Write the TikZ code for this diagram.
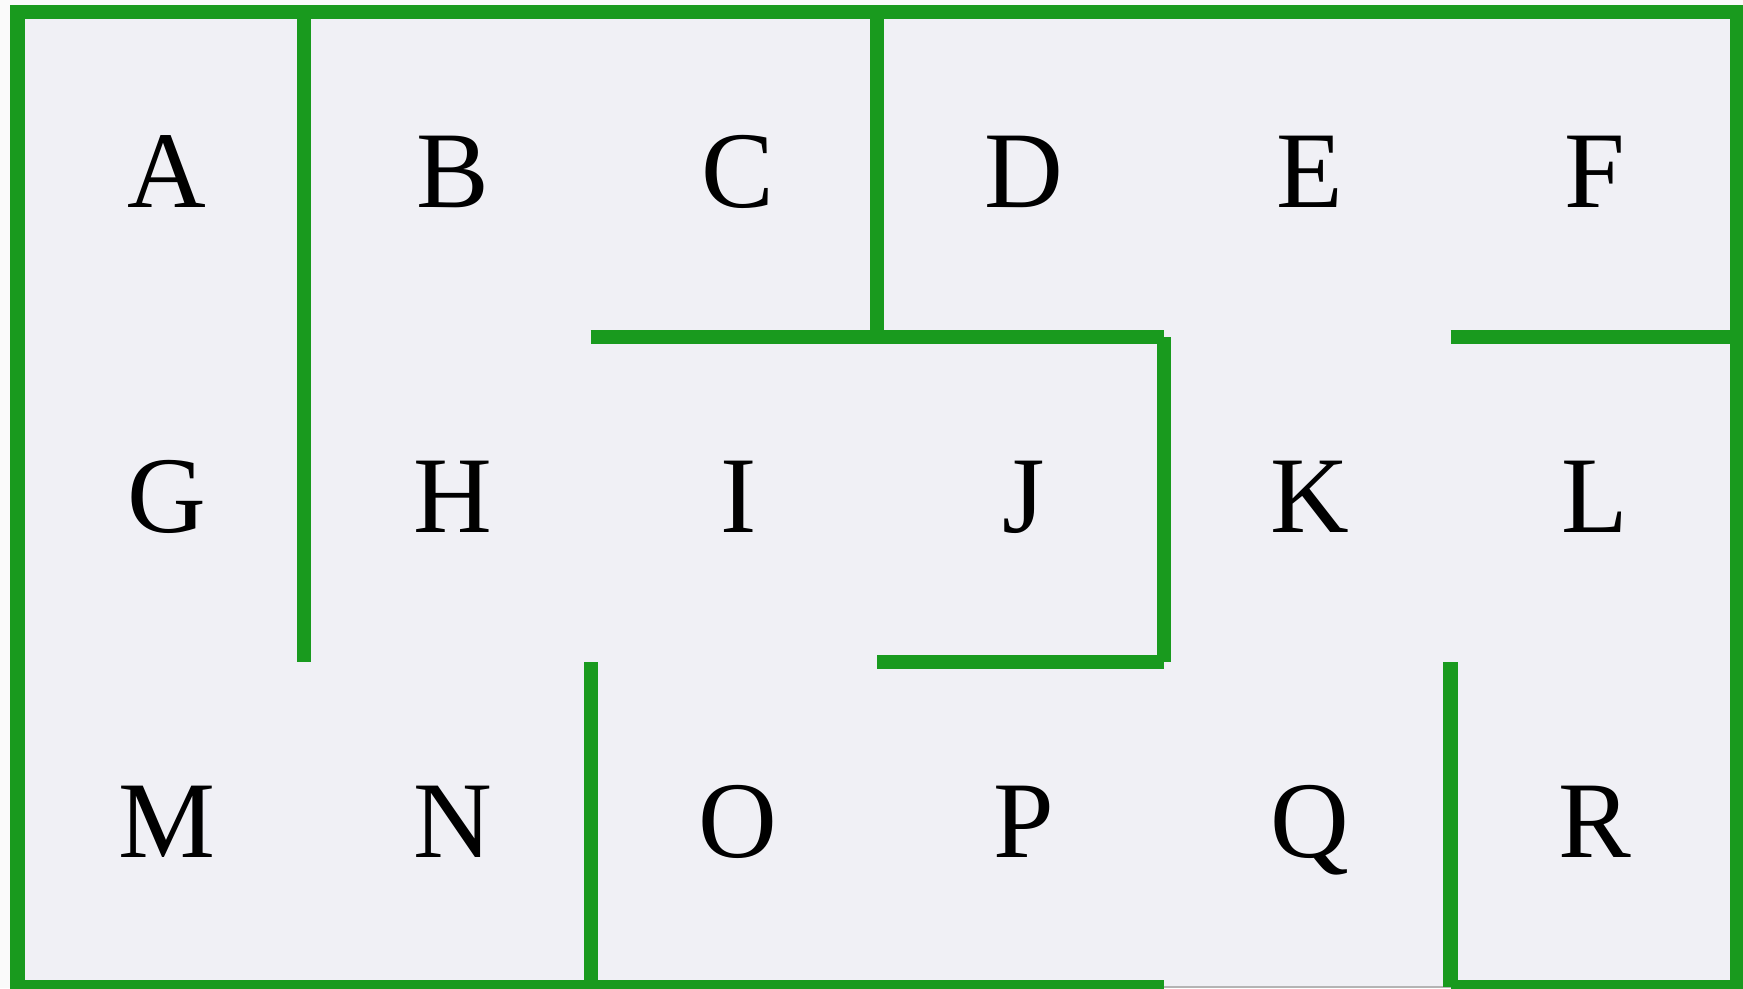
\documentclass[tikz,border=0pt]{standalone}
\usepackage{fontspec}
\setmainfont{Liberation Serif}
\usetikzlibrary{positioning}
\definecolor{wallgreen}{RGB}{25,154,30}
\definecolor{roomfill}{RGB}{240,240,245}
\definecolor{pagebg}{RGB}{250,250,250}
\definecolor{edgegray}{RGB}{180,180,180}

\begin{document}
\begin{tikzpicture}[
    x=0.01cm, y=-0.01cm,
    wall/.style={draw=wallgreen, line width=4pt},
    room/.style={font=\fontsize{31}{36}\selectfont, inner sep=0pt, anchor=base}
]
    % Background
    \fill[pagebg] (0,0) rectangle (1743,988);
    \useasboundingbox (0,0) rectangle (1743,988);
    \fill[roomfill] (17.5,12) rectangle (1737,987);

    % Grid corners
    \foreach \c in {0,...,6}
        \foreach \r in {0,...,3}
            \coordinate (g-\c-\r) at ({17.5+286.6*\c},{12+325*\r});

    % Rooms
    \foreach \name [count=\i from 0] in {A,B,C,D,E,F,G,H,I,J,K,L,M,N,O,P,Q,R} {
        \pgfmathtruncatemacro\col{mod(\i,6)}
        \pgfmathtruncatemacro\row{div(\i,6)}
        \node[room] (\name) at ({167+285.6*\col},{207+325*\row}) {\name};
    }

    % Outer walls
    \draw[wall] (g-4-3) -- (g-0-3) -- (g-0-0) -- (g-6-0) -- (g-6-3) -- (g-5-3);
    \draw[edgegray, line width=0.6pt] (g-4-3) -- (g-5-3);

    % Inner walls
    \draw[wall] (g-1-0) -- (g-1-2);
    \draw[wall] (g-3-0) -- (g-3-1);
    \draw[wall] (g-2-1) -- (g-4-1);
    \draw[wall] (g-4-1) -- (g-4-2);
    \draw[wall] (g-3-2) -- (g-4-2);
    \draw[wall] (g-5-1) -- (g-6-1);
    \draw[wall] (g-2-2) -- (g-2-3);
    \draw[wall] (g-5-2) -- (g-5-3);
\end{tikzpicture}
\end{document}
